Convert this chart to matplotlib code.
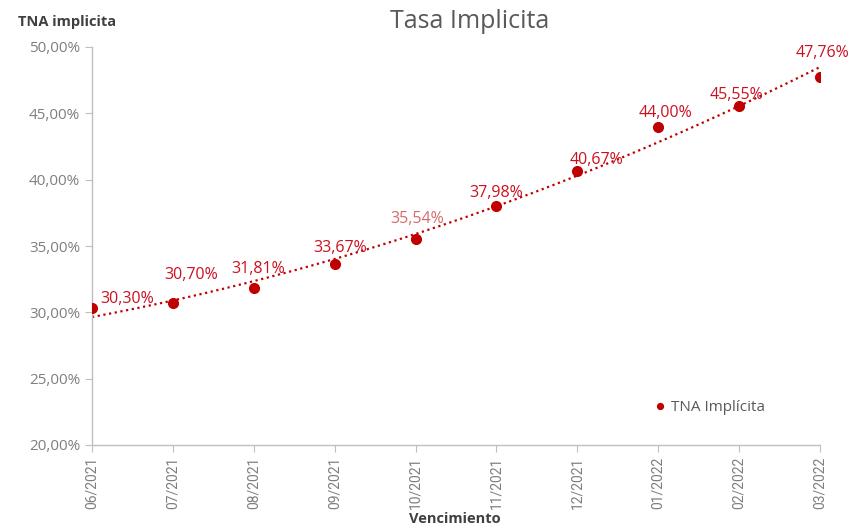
import matplotlib
matplotlib.use("Agg")
import matplotlib.pyplot as plt
import numpy as np
from matplotlib.ticker import FuncFormatter
from matplotlib import font_manager

categories = ["06/2021", "07/2021", "08/2021", "09/2021", "10/2021",
              "11/2021", "12/2021", "01/2022", "02/2022", "03/2022"]
tna = [30.30, 30.70, 31.81, 33.67, 35.54, 37.98, 40.67, 44.00, 45.55, 47.76]
series_name = "TNA Implícita"

label_offsets = [(25, 7), (13, 20), (3, 14), (4, 11), (1, 14),
                 (0, 10), (14, 8), (5, 10), (-2, 8), (2, 17)]

plt.rcParams['font.family'] = ['Open Sans', 'DejaVu Sans']
RED = "#C00000"
LBL = "#CC1020"
GRAY = "#7F7F7F"

avail = {f.name for f in font_manager.fontManager.ttflist}
narrow = 'Liberation Sans Narrow' if 'Liberation Sans Narrow' in avail else 'Roboto'

fig = plt.figure(figsize=(8.51, 5.26), dpi=100)
ax = fig.add_axes([92/851, 1-445/526, (820-92)/851, (445-47)/526])

x = np.arange(len(categories))
y = np.array(tna)

# polynomial (order 2) trendline
coef = np.polyfit(x, y, 2)
xs = np.linspace(0, len(categories)-1, 200)
ax.plot(xs, np.polyval(coef, xs), color=RED, lw=1.6, ls=(0, (1, 1.6)), zorder=2)

ax.plot(x, y, 'o', color=RED, ms=7, zorder=3, label=series_name)

for i, (xi, yi) in enumerate(zip(x, y)):
    dx, dy = label_offsets[i]
    col = "#D86A6A" if i == 4 else LBL
    ax.annotate(f"{yi:.2f}%".replace(".", ","), (xi, yi), xytext=(dx, dy),
                textcoords="offset points", ha="center", va="center",
                color=col, fontsize=11.5)

ax.set_xlim(0, len(categories)-1)
ax.set_ylim(20, 50)
ax.set_yticks(np.arange(20, 50.1, 5))
ax.yaxis.set_major_formatter(FuncFormatter(lambda v, p: f"{v:.2f}%".replace(".", ",")))
ax.set_xticks(x)
ax.set_xticklabels(categories, rotation=90, family=[narrow, 'DejaVu Sans'],
                   fontsize=11 if narrow == 'Liberation Sans Narrow' else 10)

for s in ["top", "right"]:
    ax.spines[s].set_visible(False)
for s in ["left", "bottom"]:
    ax.spines[s].set_color("#BFBFBF")
    ax.spines[s].set_linewidth(1.0)
ax.tick_params(axis="both", colors="#BFBFBF", labelcolor=GRAY, length=5)
ax.tick_params(axis="y", labelsize=11)

leg = ax.legend(loc="lower right", bbox_to_anchor=(0.943, 0.04), frameon=False,
                fontsize=11, handletextpad=0.1, markerscale=0.6, handlelength=1.2)
for t in leg.get_texts():
    t.set_color("#595959")

fig.text(470/851, 1-21/526, "Tasa Implicita", ha="center", va="center",
         fontsize=18, color="#595959")
fig.text(18/851, 1-22/526, "TNA implicita", ha="left", va="center",
         fontsize=10.5, color="#404040", fontweight="bold")
fig.text(455/851, 1-519/526, "Vencimiento", ha="center", va="center",
         fontsize=10.5, color="#404040", fontweight="bold")

fig.savefig("out.png", dpi=100)
